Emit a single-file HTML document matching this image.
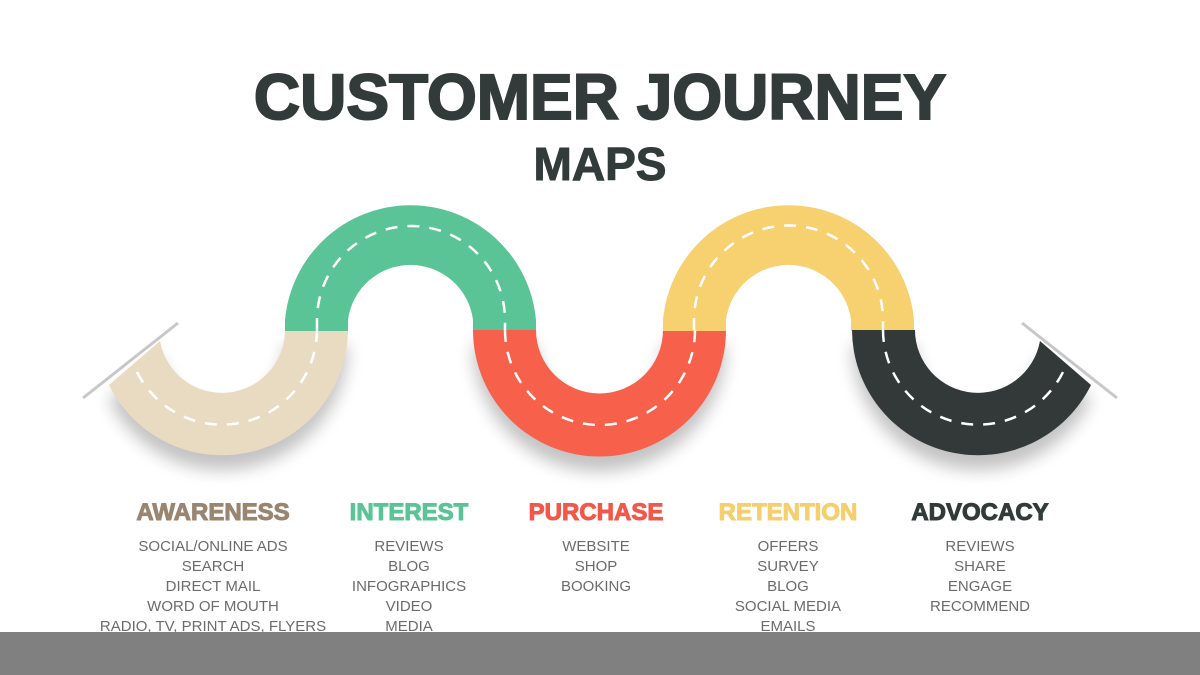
<!DOCTYPE html>
<html><head><meta charset="utf-8"><style>
body{margin:0;width:1200px;height:675px;overflow:hidden;background:#fff;font-family:"Liberation Sans",sans-serif;position:relative}
.t1{position:absolute;top:60px;left:0;width:1200px;text-align:center;font-size:64px;font-weight:900;color:#333a3a;letter-spacing:0px;-webkit-text-stroke:2px #333a3a}
.t2{position:absolute;top:137px;left:0;width:1200px;text-align:center;font-size:46px;font-weight:bold;color:#333a3a;-webkit-text-stroke:1px #333a3a}
.col{position:absolute;top:499px;width:240px;text-align:center}
.col h3{margin:0 0 10px;font-size:24px;font-weight:900;-webkit-text-stroke:1px currentColor}
.col div{font-size:15px;color:#6b6b6b;line-height:20px}
.bar{position:absolute;left:0;top:632px;width:1200px;height:43px;background:#808080}
</style></head><body>
<div class="t1">CUSTOMER JOURNEY</div>
<div class="t2">MAPS</div>
<svg width="1200" height="675" style="position:absolute;left:0;top:0">
<defs><filter id="sh" x="-30%" y="-30%" width="160%" height="160%"><feGaussianBlur stdDeviation="8"/></filter></defs>
<line x1="83" y1="398" x2="178" y2="323" stroke="#c8c8c8" stroke-width="3"/>
<line x1="1117" y1="398" x2="1022" y2="323" stroke="#c8c8c8" stroke-width="3"/>
<g filter="url(#sh)" opacity="0.35">
<path d="M348 345 A126 126 0 0 1 109 400 L160 356 A63 63 0 0 0 285 345Z" fill="#555"/>
<path d="M473 345 A126 126 0 0 0 726 345 L663 345 A63 63 0 0 1 536 345Z" fill="#555"/>
<path d="M852 345 A126 126 0 0 0 1091 400 L1040 356 A63 63 0 0 1 915 345Z" fill="#555"/>
</g>
<path d="M348 330 A126 126 0 0 1 109 385 L160 341 A63 63 0 0 0 285 330Z" fill="#e8dbc2"/>
<path d="M285 331 L285 320 A126 126 0 0 1 536 320 L536 331 L473 331 L473 320 A63 63 0 0 0 348 320 L348 331Z" fill="#5bc497"/>
<path d="M473 330 A126 126 0 0 0 726 330 L663 330 A63 63 0 0 1 536 330Z" fill="#f7604b"/>
<path d="M663 331 L663 320 A126 126 0 0 1 914 320 L914 331 L851 331 L851 320 A63 63 0 0 0 726 320 L726 331Z" fill="#f7d06f"/>
<path d="M852 330 A126 126 0 0 0 1091 385 L1040 341 A63 63 0 0 1 915 330Z" fill="#333838"/>
<g fill="none" stroke="#fff" stroke-width="2.5" stroke-dasharray="12 10">
<path d="M317 330 A95 95 0 0 1 136 370"/>
<path d="M317 330 L317 320 A94 94 0 0 1 505 320 L505 330"/>
<path d="M505 330 A95 95 0 0 0 695 330"/>
<path d="M694 330 L694 320 A94 94 0 0 1 883 320 L883 330"/>
<path d="M883 330 A95 95 0 0 0 1064 370"/>
</g>
</svg>
<div class="col" style="left:93px"><h3 style="color:#9a8570">AWARENESS</h3><div>SOCIAL/ONLINE ADS<br>SEARCH<br>DIRECT MAIL<br>WORD OF MOUTH<br>RADIO, TV, PRINT ADS, FLYERS</div></div>
<div class="col" style="left:289px"><h3 style="color:#5bc497">INTEREST</h3><div>REVIEWS<br>BLOG<br>INFOGRAPHICS<br>VIDEO<br>MEDIA</div></div>
<div class="col" style="left:476px"><h3 style="color:#f2584a">PURCHASE</h3><div>WEBSITE<br>SHOP<br>BOOKING</div></div>
<div class="col" style="left:668px"><h3 style="color:#f5cf6e">RETENTION</h3><div>OFFERS<br>SURVEY<br>BLOG<br>SOCIAL MEDIA<br>EMAILS</div></div>
<div class="col" style="left:860px"><h3 style="color:#333a3a">ADVOCACY</h3><div>REVIEWS<br>SHARE<br>ENGAGE<br>RECOMMEND</div></div>
<div class="bar"></div>
</body></html>
